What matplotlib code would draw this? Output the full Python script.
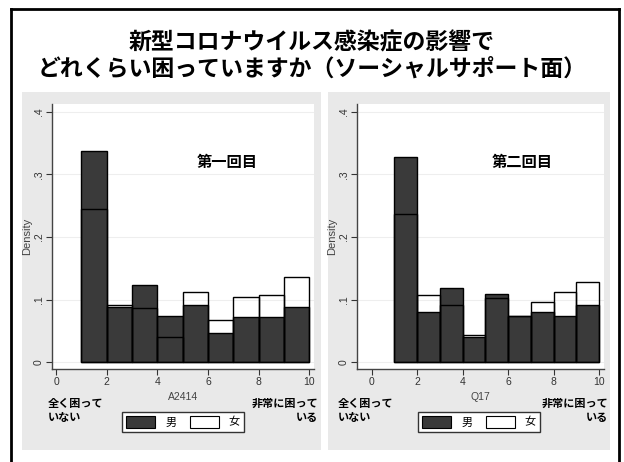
import numpy as np
import matplotlib.pyplot as plt
from matplotlib.patches import Rectangle, Patch
from matplotlib.lines import Line2D

plt.rcParams['font.family'] = ['Liberation Sans', 'Noto Sans CJK JP', 'DejaVu Sans']

# データ（ヒストグラムの密度、ビン 1-2, 2-3, ..., 9-10）
bin_edges = [1, 2, 3, 4, 5, 6, 7, 8, 9, 10]
men_1 = [0.337, 0.088, 0.124, 0.0745, 0.091, 0.047, 0.072, 0.072, 0.089]
women_1 = [0.245, 0.0915, 0.086, 0.041, 0.112, 0.0675, 0.105, 0.1075, 0.1356]
men_2 = [0.328, 0.081, 0.119, 0.040, 0.1085, 0.0734, 0.081, 0.0745, 0.0915]
women_2 = [0.236, 0.107, 0.0915, 0.0436, 0.102, 0.0734, 0.097, 0.112, 0.128]

title = '新型コロナウイルス感染症の影響で\nどれくらい困っていますか（ソーシャルサポート面）'
panel_titles = ['第一回目', '第二回目']
xlabels = ['A2414', 'Q17']
yticks = [0, 0.1, 0.2, 0.3, 0.4]
ytick_labels = ['0', '.1', '.2', '.3', '.4']
xticks = [0, 2, 4, 6, 8, 10]
left_note = '全く困って\nいない'
right_note = '非常に困って\nいる'
legend_labels = ['男', '女']

W, H = 624, 462
fig = plt.figure(figsize=(W / 100, H / 100), dpi=100)
CJK = ['Noto Sans CJK JP', 'DejaVu Sans']
DARK = '#3a3a3a'
GRAY = '#e9e9e9'


def px_rect(x0, y0, x1, y1):
    # ピクセル座標(左上原点) -> figure座標
    return [x0 / W, 1 - y1 / H, (x1 - x0) / W, (y1 - y0) / H]


def fig_box(x0, y0, x1, y1, **kw):
    r = Rectangle((x0 / W, 1 - y1 / H), (x1 - x0) / W, (y1 - y0) / H,
                  transform=fig.transFigure, **kw)
    fig.add_artist(r)


# 外枠
for xs, ys in [([11, 11], [470, 9]), ([11, 619], [9, 9]), ([619, 619], [9, 470])]:
    fig.add_artist(Line2D([x / W for x in xs], [1 - y / H for y in ys],
                          transform=fig.transFigure, color='black', lw=2))

fig.text(0.5, 1 - 56 / H, title, ha='center', va='center', fontsize=16.5,
         fontweight='bold', family=CJK, linespacing=1.2)

panels = [
    dict(gray=(22, 92, 321, 450), plot=(52, 104, 314, 369), xlim=(-0.158, 10.186),
         men=men_1, women=women_1, lnote=48, rnote=318, leg=(120, 410, 246, 434)),
    dict(gray=(328, 92, 610, 450), plot=(357, 104, 604, 369), xlim=(-0.646, 10.21),
         men=men_2, women=women_2, lnote=338, rnote=608, leg=(420, 410, 538, 434)),
]

for i, p in enumerate(panels):
    fig_box(*p['gray'], facecolor=GRAY, edgecolor='none', zorder=0)
    ax = fig.add_axes(px_rect(*p['plot']))
    ax.set_facecolor('white')
    left = np.array(bin_edges[:-1])
    ax.bar(left, p['men'], width=1, align='edge', color=DARK,
           edgecolor='black', linewidth=1, zorder=2)
    ax.bar(left, p['women'], width=1, align='edge', facecolor='none',
           edgecolor='black', linewidth=1, zorder=3)
    ax.set_xlim(*p['xlim'])
    ax.set_ylim(-0.0107, 0.4123)
    ax.set_yticks(yticks)
    ax.set_yticklabels(ytick_labels, rotation=90, va='center', fontsize=7.5, color='#333333')
    ax.set_xticks(xticks)
    ax.set_xticklabels([str(t) for t in xticks], fontsize=7.5, color='#333333')
    ax.tick_params(length=4, width=0.8, color='#333333', pad=2)
    ax.grid(axis='y', color='#eeeeee', lw=0.8, zorder=0)
    ax.set_axisbelow(True)
    for s in ['top', 'right']:
        ax.spines[s].set_visible(False)
    for s in ['left', 'bottom']:
        ax.spines[s].set_color('#444444')
        ax.spines[s].set_linewidth(1)
    ax.set_ylabel('Density', fontsize=8, color='#444444', labelpad=1)
    ax.set_xlabel(xlabels[i], fontsize=7.5, color='#444444', labelpad=3)
    ax.text(0.67, 0.78, panel_titles[i], transform=ax.transAxes, ha='center',
            va='center', fontsize=11, fontweight='bold', family=CJK)

    fig.text(p['lnote'] / W, 1 - 397 / H, left_note, ha='left', va='top',
             fontsize=8, fontweight='bold', family=CJK, linespacing=1.05)
    fig.text(p['rnote'] / W, 1 - 397 / H, right_note, ha='right', va='top',
             fontsize=8, fontweight='bold', family=CJK, linespacing=1.05)

    handles = [Patch(facecolor=DARK, edgecolor='black', lw=0.8),
               Patch(facecolor='white', edgecolor='black', lw=0.8)]
    lx0, ly0, lx1, ly1 = p['leg']
    leg = fig.legend(handles, legend_labels, loc='center',
                     bbox_to_anchor=((lx0 + lx1) / 2 / W, 1 - (ly0 + ly1) / 2 / H),
                     ncol=2, handlelength=2.6, handleheight=1.2,
                     handletextpad=0.9, columnspacing=1.2, borderpad=0.4,
                     fancybox=False, framealpha=1, edgecolor='#333333',
                     prop={'family': CJK, 'size': 8})
    leg.get_frame().set_linewidth(1)

fig.savefig('out.png', dpi=100)
